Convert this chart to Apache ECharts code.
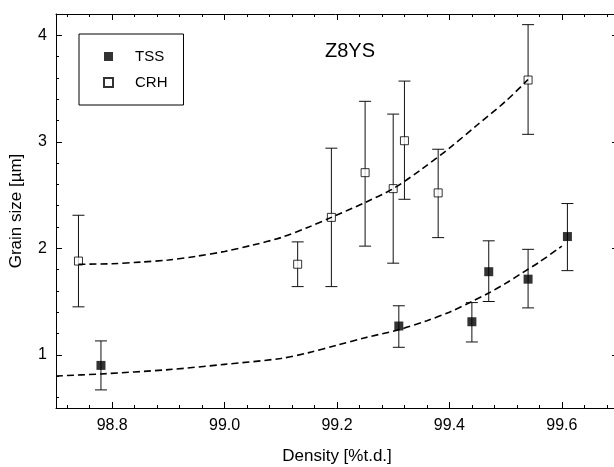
<!DOCTYPE html>
<html>
<head>
<meta charset="utf-8">
<script src="https://cdn.jsdelivr.net/npm/echarts@6/dist/echarts.min.js"></script>
<style>html,body{margin:0;padding:0;background:#fff}#c{width:614px;height:467px}</style>
</head>
<body>
<div id="c"></div>
<script>
// ---- data ----
const tssDensity = [98.78, 99.31, 99.44, 99.47, 99.54, 99.61];
const tssSize    = [0.90, 1.27, 1.31, 1.78, 1.71, 2.11];
const tssLow     = [0.67, 1.07, 1.12, 1.50, 1.44, 1.79];
const tssHigh    = [1.13, 1.46, 1.49, 2.07, 1.99, 2.42];

const crhDensity = [98.74, 99.13, 99.19, 99.25, 99.30, 99.32, 99.38, 99.54];
const crhSize    = [1.88, 1.85, 2.29, 2.71, 2.56, 3.01, 2.52, 3.58];
const crhLow     = [1.45, 1.64, 1.64, 2.02, 1.86, 2.46, 2.10, 3.07];
const crhHigh    = [2.31, 2.06, 2.94, 3.38, 3.26, 3.57, 2.93, 4.10];

const tssFitX = [98.70, 98.78, 98.90, 99.00, 99.10, 99.15, 99.20, 99.25, 99.31, 99.36, 99.40, 99.44, 99.47, 99.50, 99.53, 99.56, 99.60];
const tssFitY = [0.80, 0.82, 0.86, 0.91, 0.965, 1.02, 1.09, 1.16, 1.235, 1.32, 1.40, 1.50, 1.58, 1.67, 1.77, 1.87, 2.02];

const crhFitX = [98.74, 98.80, 98.85, 98.90, 98.95, 99.00, 99.05, 99.10, 99.15, 99.19, 99.25, 99.30, 99.35, 99.40, 99.45, 99.50, 99.54];
const crhFitY = [1.85, 1.855, 1.87, 1.89, 1.925, 1.97, 2.03, 2.10, 2.20, 2.29, 2.43, 2.56, 2.74, 2.94, 3.16, 3.38, 3.585];

const xMajorTicks = [98.8, 99.0, 99.2, 99.4, 99.6];
const xMinorTicks = [98.72, 98.76, 98.84, 98.88, 98.92, 98.96, 99.04, 99.08, 99.12, 99.16, 99.24, 99.28, 99.32, 99.36, 99.44, 99.48, 99.52, 99.56, 99.64, 99.68];
const yMajorTicks = [1, 2, 3, 4];
const yMinorTicks = [0.6, 0.8, 1.2, 1.4, 1.6, 1.8, 2.2, 2.4, 2.6, 2.8, 3.2, 3.4, 3.6, 3.8];

const titleText = 'Z8YS';
const xName = 'Density [%t.d.]';
const yName = 'Grain size [\u00b5m]';

// ---- chart ----
const FONT = '"Liberation Sans", Arial, sans-serif';
const chart = echarts.init(document.getElementById('c'), null, {renderer: 'canvas'});

function zip(a, b) { return a.map((v, i) => [v, b[i]]); }
function zip3(a, b, c) { return a.map((v, i) => [v, b[i], c[i]]); }

function errRender(params, api) {
  const x = api.value(0);
  const lo = api.coord([x, api.value(1)]);
  const hi = api.coord([x, api.value(2)]);
  const hw = 6;
  const st = {stroke: '#111', lineWidth: 1};
  return {
    type: 'group',
    children: [
      {type: 'line', shape: {x1: lo[0], y1: lo[1], x2: hi[0], y2: hi[1]}, style: st},
      {type: 'line', shape: {x1: lo[0] - hw, y1: lo[1], x2: lo[0] + hw, y2: lo[1]}, style: st},
      {type: 'line', shape: {x1: hi[0] - hw, y1: hi[1], x2: hi[0] + hw, y2: hi[1]}, style: st}
    ]
  };
}

const xBase = {type: 'value', min: 98.7, max: 99.7, gridIndex: 0, splitLine: {show: false}};
const yBase = {type: 'value', min: 0.5, max: 4.2, gridIndex: 0, splitLine: {show: false}};
const lineSt = {show: true, lineStyle: {color: '#000', width: 1}};

function xAxisDef(pos, major, showLabel) {
  return Object.assign({}, xBase, {
    position: pos,
    axisLine: major ? lineSt : {show: false},
    axisTick: {show: true, inside: true, length: major ? 6 : 3, lineStyle: {color: '#000', width: 1},
               customValues: major ? xMajorTicks : xMinorTicks},
    axisLabel: showLabel ? {show: true, customValues: xMajorTicks, margin: 10, color: '#000',
               fontFamily: FONT, fontSize: 16, formatter: v => Number(v).toFixed(1)} : {show: false},
    name: showLabel ? xName : '',
    nameLocation: 'middle', nameGap: 40,
    nameTextStyle: {color: '#000', fontFamily: FONT, fontSize: 17}
  });
}
function yAxisDef(pos, major, showLabel) {
  return Object.assign({}, yBase, {
    position: pos,
    axisLine: major ? lineSt : {show: false},
    axisTick: {show: true, inside: true, length: major ? 6 : 3, lineStyle: {color: '#000', width: 1},
               customValues: major ? yMajorTicks : yMinorTicks},
    axisLabel: showLabel ? {show: true, customValues: yMajorTicks, margin: 9, color: '#000',
               fontFamily: FONT, fontSize: 16, formatter: v => String(Math.round(v))} : {show: false},
    name: showLabel ? yName : '',
    nameLocation: 'middle', nameGap: 31,
    nameTextStyle: {color: '#000', fontFamily: FONT, fontSize: 17}
  });
}

chart.setOption({
  animation: false,
  backgroundColor: '#fff',
  title: {text: titleText, left: 345, top: 36, textAlign: 'center',
          textStyle: {color: '#000', fontFamily: FONT, fontSize: 20, fontWeight: 'normal'}},
  grid: {left: 56, top: 14, width: 562, height: 394, outerBoundsMode: 'none', containLabel: false},
  legend: {
    left: 79, top: 34, orient: 'vertical',
    borderColor: '#000', borderWidth: 1, borderRadius: 0,
    padding: [15, 16, 15, 24],
    itemWidth: 9, itemHeight: 9, itemGap: 11,
    data: ['TSS', 'CRH'],
    textStyle: {color: '#000', fontFamily: FONT, fontSize: 15, padding: [0, 0, 0, 17]}
  },
  xAxis: [
    xAxisDef('bottom', true, true),
    xAxisDef('bottom', false, false),
    xAxisDef('top', true, false),
    xAxisDef('top', false, false)
  ],
  yAxis: [
    yAxisDef('left', true, true),
    yAxisDef('left', false, false),
    yAxisDef('right', true, false),
    yAxisDef('right', false, false)
  ],
  series: [
    {type: 'custom', name: 'tssErr', renderItem: errRender, data: zip3(tssDensity, tssLow, tssHigh),
     z: 2, silent: true, encode: {x: 0, y: [1, 2]}},
    {type: 'custom', name: 'crhErr', renderItem: errRender, data: zip3(crhDensity, crhLow, crhHigh),
     z: 2, silent: true, encode: {x: 0, y: [1, 2]}},
    {type: 'scatter', name: 'TSS', data: zip(tssDensity, tssSize), symbol: 'rect', symbolSize: 9,
     itemStyle: {color: '#000'}, z: 3},
    {type: 'scatter', name: 'CRH', data: zip(crhDensity, crhSize), symbol: 'rect', symbolSize: 8,
     itemStyle: {color: '#fff', borderColor: '#000', borderWidth: 1}, z: 3},
    {type: 'line', name: 'tssFit', data: zip(tssFitX, tssFitY), smooth: 0.3, showSymbol: false,
     lineStyle: {color: '#000', width: 1.6, type: [7, 4]}, z: 4, silent: true},
    {type: 'line', name: 'crhFit', data: zip(crhFitX, crhFitY), smooth: 0.3, showSymbol: false,
     lineStyle: {color: '#000', width: 1.6, type: [7, 4]}, z: 4, silent: true}
  ]
});
</script>
</body>
</html>
